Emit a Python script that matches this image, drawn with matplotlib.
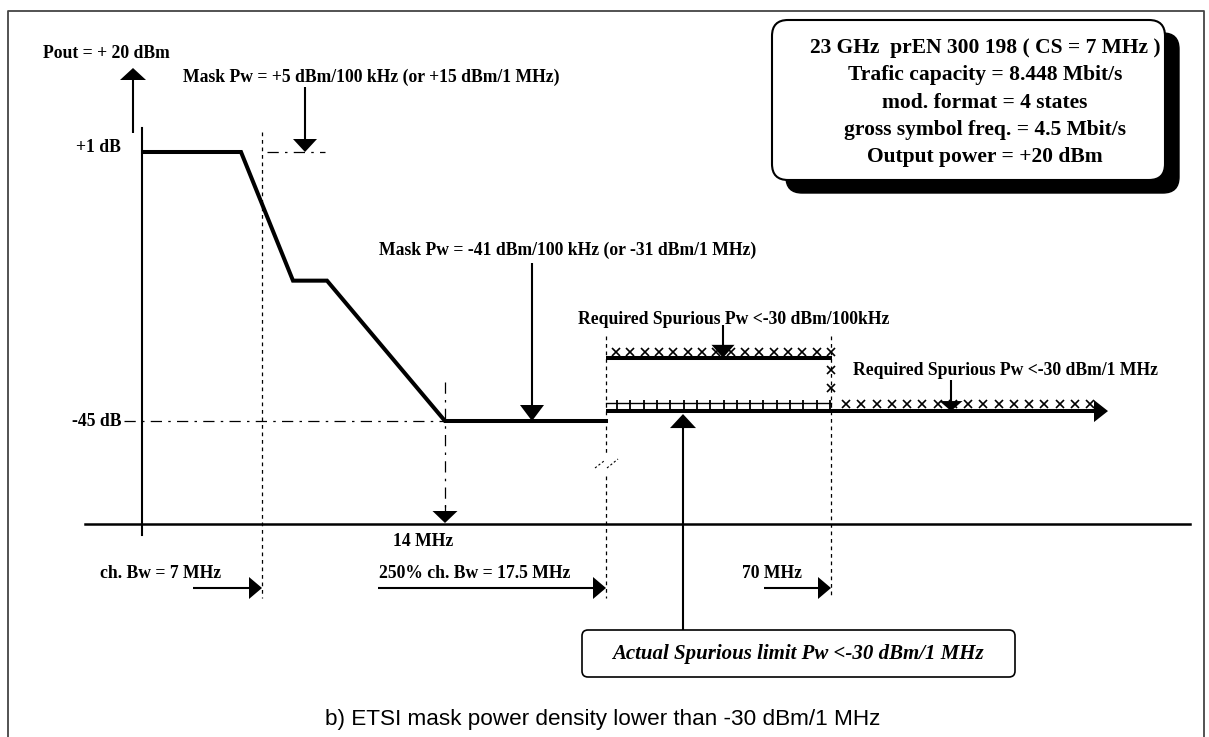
import numpy as np
import matplotlib.pyplot as plt
from matplotlib.patches import FancyBboxPatch

# ETSI spectrum mask (schematic frequency position, level in dB rel. to Pout)
mask_x = [143, 241, 293, 327, 445, 606]
mask_db = [1, 1, -21, -21, -45, -45]

# reference levels on the left
ref_db = [1, -45]
ref_labels = ['+1 dB', '-45 dB']

# frequency markers below the axis
freq_x = [262, 606, 831]
freq_arrow_start = [193, 378, 764]
freq_label_x = [100, 379, 742]
freq_labels = ['ch. Bw = 7 MHz', '250% ch. Bw = 17.5 MHz', '70 MHz']

# spurious limits (levels in dB)
spur_100k_db = -34.2
spur_1m_db = -43.3

info_lines = ['23 GHz  prEN 300 198 ( CS = 7 MHz )',
              'Trafic capacity = 8.448 Mbit/s',
              'mod. format = 4 states',
              'gross symbol freq. = 4.5 Mbit/s',
              'Output power = +20 dBm']

SERIF = 'Liberation Serif'
SANS = 'Liberation Sans'


def yy(db):
    # dB level -> vertical drawing position
    return 152 - (db - 1) * 269 / 46


fig = plt.figure(figsize=(12.09, 7.37), dpi=100)
ax = fig.add_axes([0, 0, 1, 1])
ax.set_xlim(0, 1209)
ax.set_ylim(737, 0)
ax.axis('off')


def arrow(x0, y0, x1, y1, hl=13, hw=24, lw=1.5):
    d = np.hypot(x1 - x0, y1 - y0)
    ux, uy = (x1 - x0) / d, (y1 - y0) / d
    bx, by = x1 - ux * hl, y1 - uy * hl
    ax.plot([x0, bx], [y0, by], color='k', lw=lw, solid_capstyle='butt')
    px, py = -uy, ux
    ax.fill([x1, bx + px * hw / 2, bx - px * hw / 2],
            [y1, by + py * hw / 2, by - py * hw / 2], color='k', lw=0)


def label(x, y, s, ha='left', size=12.7, **kw):
    ax.text(x, y, s, ha=ha, va='center', fontsize=size, family=SERIF,
            fontweight='bold', **kw)


dotted = (0, (3, 3))
dashdot = (0, (9, 5, 2, 5))

# outer frame
ax.plot([8, 8, 1204, 1204], [737, 11, 11, 737], color='#444444', lw=1.3)

# axes
ax.plot([142, 142], [128, 535], color='k', lw=1.5)
ax.plot([85, 1190], [524, 524], color='k', lw=1.8)

# Pout arrow
arrow(133, 133, 133, 68, hl=12, hw=26, lw=1.5)
label(43, 53, 'Pout = + 20 dBm')

# reference levels
for db, txt in zip(ref_db, ref_labels):
    label(121, yy(db) - (5 if db > 0 else 0), txt, ha='right')
ax.plot([267, 325], [yy(1), yy(1)], color='k', lw=0.9, ls=dashdot)
ax.plot([124, 445], [yy(-45), yy(-45)], color='k', lw=0.9, ls=dashdot)

# mask
ax.plot(mask_x, [yy(v) for v in mask_db], color='k', lw=2.9,
        solid_joinstyle='miter')

# vertical frequency guides
ax.plot([262, 262], [132, 598], color='k', lw=0.9, ls=dotted)
ax.plot([606, 606], [336, 456], color='k', lw=0.9, ls=dotted)
ax.plot([606, 606], [476, 598], color='k', lw=0.9, ls=dotted)
ax.plot([595, 604], [468, 461], color='k', lw=0.8, ls=(0, (2, 2)))
ax.plot([607, 618], [468, 459], color='k', lw=0.8, ls=(0, (2, 2)))
ax.plot([831, 831], [336, 598], color='k', lw=0.9, ls=dotted)
ax.plot([445, 445], [382, 512], color='k', lw=0.9, ls=dashdot)
arrow(445, 505, 445, 523, hl=12, hw=25, lw=0.9)
label(423, 542, '14 MHz', ha='center')

# mask annotations
label(183, 77, 'Mask Pw = +5 dBm/100 kHz (or +15 dBm/1 MHz)')
arrow(305, 87, 305, yy(1), hl=13, hw=24, lw=1.5)
label(379, 250, 'Mask Pw = -41 dBm/100 kHz (or -31 dBm/1 MHz)')
arrow(532, 263, 532, yy(-45), hl=16, hw=24, lw=1.5)

# spurious limit per 100 kHz
y_up = yy(spur_100k_db)
ax.plot([606, 832], [y_up, y_up], color='k', lw=2.9, solid_capstyle='butt')
xs_up = np.linspace(616, 831, 16)
ax.plot(xs_up, np.full(len(xs_up), y_up - 6), ls='none', marker='x',
        ms=6, mew=1.2, color='k')
ax.plot([831, 831], [y_up + 12, y_up + 30],
        ls='none', marker='x', ms=6, mew=1.2, color='k')
label(578, 319, 'Required Spurious Pw <-30 dBm/100kHz')
arrow(723, 325, 723, y_up, hl=13, hw=23, lw=1.5)

# spurious limit per 1 MHz
y_lo = yy(spur_1m_db)
arrow(606, y_lo, 1108, y_lo, hl=14, hw=22, lw=2.9)
ax.plot([606, 831], [y_lo - 8, y_lo - 8], color='k', lw=1.0)
xs_plus = np.linspace(617, 830, 17)
ax.plot(xs_plus, np.full(len(xs_plus), y_lo - 5), ls='none', marker='|',
        ms=8, mew=1.3, color='k')
xs_lo = np.linspace(846, 1090, 17)
ax.plot(xs_lo, np.full(len(xs_lo), y_lo - 7), ls='none', marker='x',
        ms=6, mew=1.2, color='k')
label(853, 370, 'Required Spurious Pw <-30 dBm/1 MHz')
arrow(951, 380, 951, y_lo, hl=10, hw=23, lw=1.5)

# actual spurious limit
arrow(683, 630, 683, y_lo + 3, hl=14, hw=26, lw=1.5)
box = FancyBboxPatch((582, 630), 433, 47,
                     boxstyle='round,pad=0,rounding_size=6',
                     fc='white', ec='k', lw=1.2)
ax.add_patch(box)
ax.text(798, 654, 'Actual Spurious limit Pw <-30 dBm/1 MHz', ha='center',
        va='center', fontsize=15, family=SERIF, style='italic',
        fontweight='bold')

# bandwidth arrows
for fx, fs, lx, txt in zip(freq_x, freq_arrow_start, freq_label_x, freq_labels):
    arrow(fs, 588, fx, 588, hl=13, hw=22, lw=1.5)
    label(lx, 573, txt)

# info box with shadow
shadow = FancyBboxPatch((786, 33), 393, 160,
                        boxstyle='round,pad=0,rounding_size=16',
                        fc='black', ec='black', lw=1)
ax.add_patch(shadow)
info = FancyBboxPatch((772, 20), 393, 160,
                      boxstyle='round,pad=0,rounding_size=16',
                      fc='white', ec='black', lw=1.5)
ax.add_patch(info)
for i, s in enumerate(info_lines):
    label(985, 48 + i * 27.3, s, ha='center', size=15.5)

# caption
ax.text(603, 719, 'b) ETSI mask power density lower than -30 dBm/1 MHz',
        ha='center', va='center', fontsize=16.2, family=SANS)

fig.savefig('out.png', dpi=100)
